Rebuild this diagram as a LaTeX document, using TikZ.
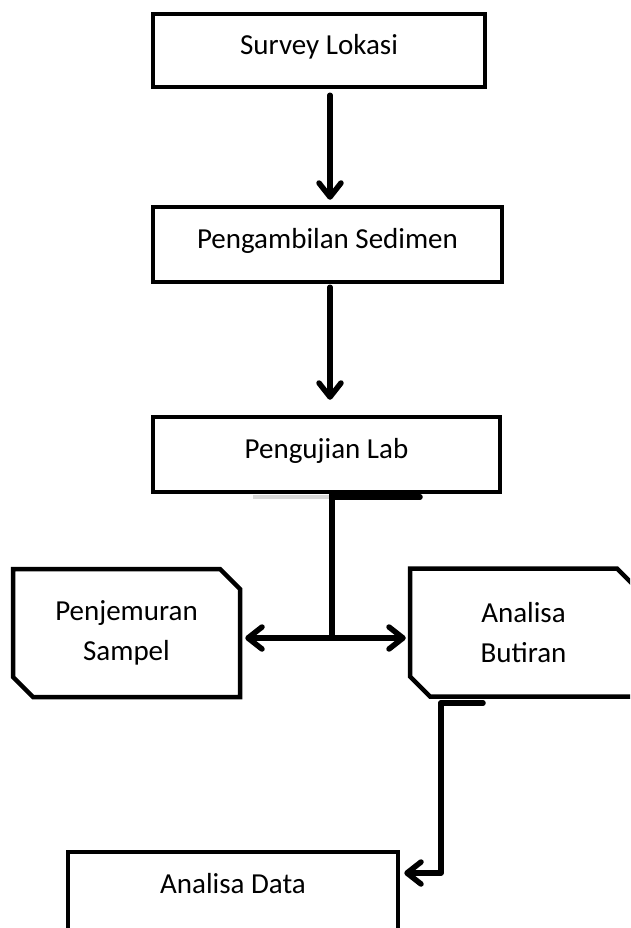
\documentclass[tikz,border=0pt]{standalone}
\usepackage{fontspec}
\setmainfont{Carlito}
\usetikzlibrary{arrows.meta,shapes.misc}

\tikzset{
  box/.style={draw, rectangle, line width=4.5pt, inner xsep=0pt, inner ysep=0pt,
    text height=41pt, font=\fontsize{29}{40}\selectfont},
  cutbox/.style={draw, chamfered rectangle, line width=4.5pt,
    chamfered rectangle corners={north east,south west}, chamfered rectangle sep=10pt,
    inner sep=0pt, minimum width=227pt, minimum height=128pt, align=center,
    font=\fontsize{29}{40}\selectfont},
  conn/.style={line width=5.5pt, line cap=round, line join=round},
  flow/.style={conn, -{Straight Barb[length=14pt,width=22pt,round]}}
}

\begin{document}
\begin{tikzpicture}[x=1pt,y=-1pt]
  \useasboundingbox (0,0) rectangle (630,928);
  \clip (0,0) rectangle (630,928);

  % steps
  \node[box, minimum width=332pt, text depth=32pt] (survey) at (319,50.5) {Survey Lokasi};
  \node[box, minimum width=349pt, text depth=34pt] (sedimen) at (327.5,244.5) {Pengambilan Sedimen};
  \node[box, minimum width=347pt, text depth=34pt] (lab) at (326.5,454.5) {Pengujian Lab};
  \node[cutbox] (sampel) at (126.5,633) {Penjemuran\\Sampel};
  \node[cutbox] (butiran) at (523.5,632.5) {Analisa\\Butiran};
  \node[box, minimum width=330pt, text depth=60pt] (data) at (233,902.5) {Analisa Data};

  % bends of the connectors
  \coordinate (spine) at (330,0);
  \coordinate (fork) at (332,638);
  \coordinate (stub) at (420,497);
  \coordinate (drop) at (441,703);
  \coordinate (bend) at (441,873);

  \draw[flow, shorten <=6pt, shorten >=5pt] (survey.south -| spine) -- (sedimen.north -| spine);
  \draw[flow, shorten <=3pt, shorten >=15pt] (sedimen.south -| spine) -- (lab.north -| spine);

  \draw[gray!30, line width=4pt] (stub -| fork) -- ++(-79,0);
  \draw[conn] (lab.south -| fork) -- (fork);
  \draw[conn] (stub -| fork) -- (stub);
  \draw[flow, shorten >=3pt] (fork) -- (sampel.east |- fork);
  \draw[flow, shorten >=2pt] (fork) -- (butiran.west |- fork);

  \draw[conn] (drop) -- ++(42,0);
  \draw[flow, shorten >=4pt] (drop) -- (bend) -- (data.east |- bend);
\end{tikzpicture}
\end{document}
